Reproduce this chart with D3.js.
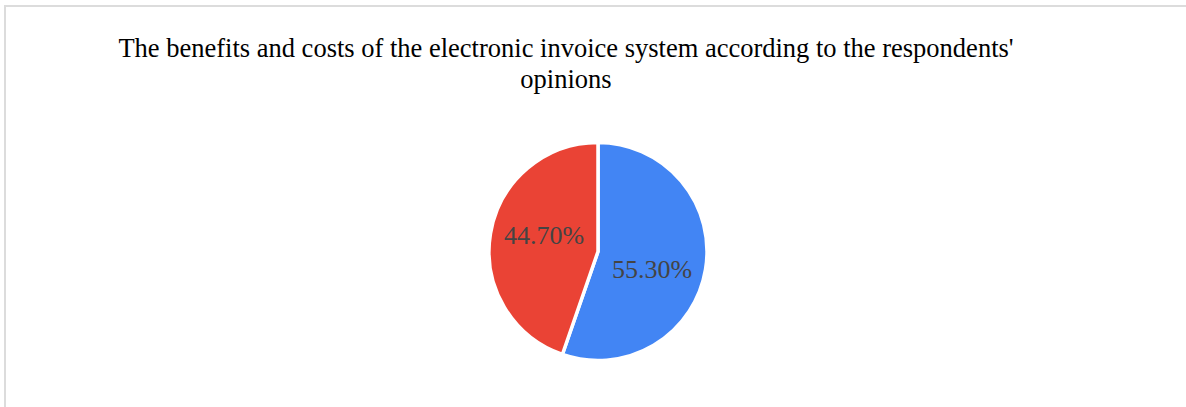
<!DOCTYPE html>
<html>
<head>
<meta charset="utf-8">
<script src="https://cdn.jsdelivr.net/npm/d3@7"></script>
<style>
  html, body { margin: 0; padding: 0; background: #fff; }
  svg text { font-family: "Liberation Serif", "Times New Roman", Times, serif; }
</style>
</head>
<body>
<div id="chart"></div>
<script>
  var width = 1186;
  var height = 407;

  // data
  var titleLines = ["The benefits and costs of the electronic invoice system according to the respondents'", "opinions"];
  var categories = ["Benefits", "Costs"];
  var values = [55.3, 44.7];
  var colors = ["#4285f4", "#ea4335"];

  var svg = d3.select("#chart").append("svg")
    .attr("width", width)
    .attr("height", height);

  // light frame, only top and left edges show
  svg.append("path")
    .attr("d", "M5,407 V6 H1186")
    .attr("fill", "none")
    .attr("stroke", "#dcdcdc")
    .attr("stroke-width", 2);

  svg.append("text")
    .attr("x", 566)
    .attr("y", 57)
    .attr("text-anchor", "middle")
    .attr("font-size", 26.5)
    .attr("fill", "#000")
    .selectAll("tspan")
    .data(titleLines)
    .enter().append("tspan")
      .attr("x", 566)
      .attr("dy", function(d, i) { return i ? 31 : 0; })
      .text(function(d) { return d; });

  var cx = 598, cy = 251.5, radius = 109;

  var pie = d3.pie().sort(null).value(function(d) { return d; });
  var arc = d3.arc().innerRadius(0).outerRadius(radius);
  // labels sit a little clockwise of the slice middle, like the original
  var labelPie = d3.pie().sort(null).value(function(d) { return d; })
    .startAngle(0.14).endAngle(2 * Math.PI + 0.14);
  var labelArc = d3.arc().innerRadius(radius * 0.52).outerRadius(radius * 0.52);

  var g = svg.append("g")
    .attr("transform", "translate(" + cx + "," + cy + ")");

  g.selectAll("path.slice")
    .data(pie(values))
    .enter().append("path")
      .attr("class", "slice")
      .attr("d", arc)
      .attr("fill", function(d, i) { return colors[i]; })
      .attr("stroke", "#fff")
      .attr("stroke-width", 3.5)
    .append("title")
      .text(function(d, i) { return categories[i] + ": " + d.data.toFixed(2) + "%"; });

  g.selectAll("text.label")
    .data(labelPie(values))
    .enter().append("text")
      .attr("class", "label")
      .attr("transform", function(d) { return "translate(" + labelArc.centroid(d) + ")"; })
      .attr("dy", "0.35em")
      .attr("text-anchor", "middle")
      .attr("font-size", 26)
      .attr("fill", "#444")
      .text(function(d) { return d.data.toFixed(2) + "%"; });
</script>
</body>
</html>
